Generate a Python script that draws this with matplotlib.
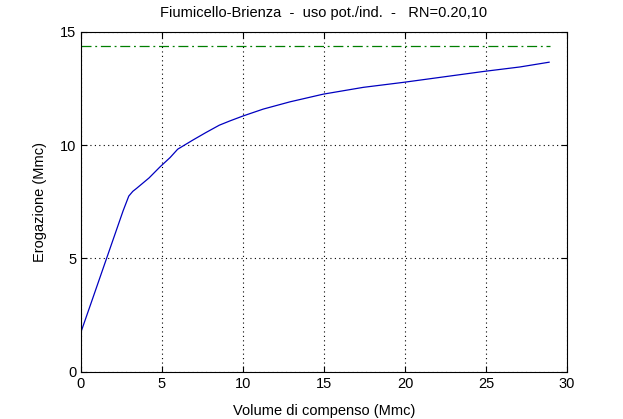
import numpy as np
import matplotlib
matplotlib.use("Agg")
import matplotlib.pyplot as plt

plt.rcParams['font.family'] = ['Liberation Sans', 'DejaVu Sans']

# volume di compenso (Mmc) vs erogazione (Mmc)
vol = [0.0, 0.76, 1.58, 2.6, 2.95, 3.2, 3.43, 4.2, 4.88, 5.5, 5.97, 6.9,
       7.7, 8.54, 9.2, 10.02, 11.25, 12.9, 14.96, 17.43, 19.9, 22.37,
       24.84, 27.1, 28.9]
erog = [1.75, 3.31, 5.0, 7.1, 7.75, 7.96, 8.09, 8.55, 9.04, 9.45, 9.82, 10.22,
        10.55, 10.88, 11.07, 11.29, 11.59, 11.91, 12.25, 12.55, 12.77, 13.01,
        13.25, 13.45, 13.66]

x_max = [0.0, 28.95]
y_max = [14.37, 14.37]

fig = plt.figure(figsize=(6.23, 4.19), dpi=100)
ax = fig.add_axes([0.130, 0.113, 0.780, 0.811])

ax.plot(vol, erog, color='#0000c0', lw=0.9)
ax.plot(x_max, y_max, color='#007f00', lw=0.9, linestyle=(0, (8, 3, 1.5, 3)))

ax.set_xlim(0, 30)
ax.set_ylim(0, 15)
ax.set_xticks([0, 5, 10, 15, 20, 25, 30])
ax.set_yticks([0, 5, 10, 15])
ax.grid(True, color='black', linestyle=(0, (1, 3)), lw=0.8)
ax.tick_params(direction='in', top=True, right=True, length=4, labelsize=10.5)
for s in ax.spines.values():
    s.set_linewidth(0.8)

ax.set_xlabel('Volume di compenso (Mmc)', fontsize=10.5, labelpad=10)
ax.set_ylabel('Erogazione (Mmc)', fontsize=10.5, labelpad=9)
ax.set_title('Fiumicello-Brienza  -  uso pot./ind.  -   RN=0.20,10', fontsize=10.5, pad=11)

fig.savefig('out.png', dpi=100)
